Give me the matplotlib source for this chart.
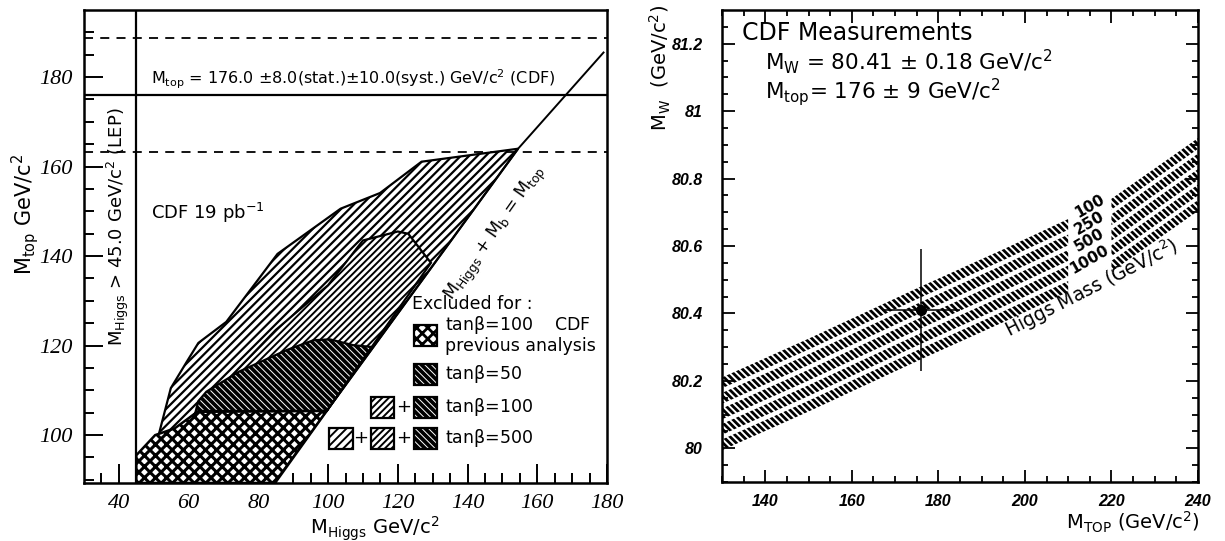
import numpy as np
import matplotlib
matplotlib.use("Agg")
import matplotlib.pyplot as plt
from matplotlib.patches import Polygon, Rectangle

plt.rcParams['font.family'] = ['DejaVu Sans']
plt.rcParams['mathtext.default'] = 'regular'
plt.rcParams['hatch.linewidth'] = 1.8

# ---------------- left panel data (M_Higgs, M_top) ----------------
mtop_cdf = 176.0
mtop_lo, mtop_hi = 163.2, 188.8
mhiggs_lep = 45.0

# M_Higgs + M_b = M_top line
kin_x = [84.5, 154.5, 179.0]
kin_y = [89.3, 164.0, 185.5]

# tan(beta)=500 excluded region
outer_x = [51, 54.9, 59.4, 62.8, 70.8, 85.5, 103.6, 114.9, 126.8, 154.5, 99.6, 62.8, 56, 51]
outer_y = [98.8, 110.5, 116.3, 120.6, 125.3, 140.5, 150.6, 154.1, 161.1, 164.0, 105.4, 105.4, 101.2, 98.8]

# tan(beta)=100 excluded region
inner_x = [56, 62, 72, 85, 100, 110, 120, 123, 129.5, 99.6, 62.8]
inner_y = [100.8, 104.5, 113, 123.5, 133.5, 143.5, 145.5, 145, 138.5, 105.4, 105.4]

# tan(beta)=50 excluded region
dark_x = [61.1, 62.8, 65.1, 74.5, 88.1, 95.8, 100.5, 107.2, 112.5, 99.6, 62.8, 61.1]
dark_y = [102.5, 107.6, 109.7, 114.2, 119.0, 121.2, 121.4, 120.1, 119.7, 105.4, 105.4, 102.5]

# CDF previous analysis (tan(beta)=100)
cross_x = [45, 45, 50.4, 56, 62.5, 99.6, 84.8]
cross_y = [89.3, 95.5, 100.0, 101.5, 105.2, 105.4, 89.3]

# ---------------- right panel data (M_top, M_W) ----------------
band_x1 = [130, 150, 176, 195, 210]
band_x2 = [220, 240]
higgs_masses = ['100', '250', '500', '1000']
row_1 = [80.194, 80.309, 80.464, 80.574, 80.664, 80.724, 80.904]
row_2 = [80.148, 80.263, 80.418, 80.528, 80.618, 80.678, 80.858]
row_3 = [80.102, 80.217, 80.372, 80.482, 80.572, 80.632, 80.812]
row_4 = [80.056, 80.171, 80.326, 80.436, 80.526, 80.586, 80.766]
row_5 = [80.010, 80.125, 80.280, 80.390, 80.480, 80.540, 80.720]
bands = [row_1, row_2, row_3, row_4, row_5]
band_half = 0.016

meas_mtop, meas_mtop_err = 176.0, 9.0
meas_mw, meas_mw_err = 80.41, 0.18

SPARSE, DENSE, DARK, CROSS = '////', '/////', '\\\\\\\\\\', 'xxx'


def set_hlw(artist, lw):
    if hasattr(artist, 'set_hatch_linewidth'):
        artist.set_hatch_linewidth(lw)


fig = plt.figure(figsize=(12.25, 5.41), dpi=100)
ax1 = fig.add_axes([84/1225, 1-483/541, (607-84)/1225, (483-10)/541])
ax2 = fig.add_axes([722/1225, 1-482/541, (1198-722)/1225, (482-10)/541])

# ======================= left panel =======================
ax1.set_xlim(30, 180)
ax1.set_ylim(89.3, 195)

p = Polygon(list(zip(outer_x, outer_y)), closed=True, facecolor='white',
            edgecolor='black', hatch=SPARSE, lw=1.6, zorder=2)
ax1.add_patch(p)
set_hlw(p, 1.6)
p = Polygon(list(zip(inner_x, inner_y)), closed=True, facecolor='white',
            edgecolor='black', hatch=DENSE, lw=1.6, zorder=3)
ax1.add_patch(p)
set_hlw(p, 1.4)
p = Polygon(list(zip(dark_x, dark_y)), closed=True, facecolor='black',
            edgecolor='white', hatch=DARK, lw=0, zorder=4)
ax1.add_patch(p)
set_hlw(p, 0.7)
ax1.add_patch(Polygon(list(zip(dark_x, dark_y)), closed=True, fill=False,
                      edgecolor='black', lw=1.6, zorder=4.5))
p = Polygon(list(zip(cross_x, cross_y)), closed=True, facecolor='white',
            edgecolor='black', hatch=CROSS, lw=1.8, zorder=5)
ax1.add_patch(p)
set_hlw(p, 2.2)

ax1.plot(kin_x, kin_y, color='black', lw=1.4, zorder=6)
ax1.axhline(mtop_cdf, color='black', lw=1.6, zorder=6)
ax1.axhline(mtop_lo, color='black', lw=1.3, ls=(0, (5, 4)), zorder=6)
ax1.axhline(mtop_hi, color='black', lw=1.3, ls=(0, (5, 4)), zorder=6)
ax1.axvline(mhiggs_lep, color='black', lw=1.6, zorder=6)

ax1.text(49.2, 179.4, 'M$_{top}$ = 176.0 ±8.0(stat.)±10.0(syst.) GeV/c$^{2}$ (CDF)',
         fontsize=11.5, ha='left', va='center')
ax1.text(49.2, 149.6, 'CDF 19 pb$^{-1}$', fontsize=13, ha='left', va='center')
ax1.text(39.8, 146.5, 'M$_{Higgs}$ > 45.0 GeV/c$^{2}$ (LEP)', fontsize=13,
         rotation=90, ha='center', va='center')
ax1.text(148.0, 145.0, 'M$_{Higgs}$ + M$_{b}$ = M$_{top}$', fontsize=12.5,
         rotation=55, ha='center', va='center', rotation_mode='anchor')

# legend
ax1.text(124.0, 129.2, 'Excluded for :', fontsize=12.5, ha='left', va='center')
bw, bh = 6.7, 4.7
box_x = [124.6, 112.2, 100.4]
rows = [
    (119.9, [(CROSS, 'white', 'black')], ['tan$\\beta$=100    CDF', 'previous analysis']),
    (111.3, [(DARK, 'black', 'white')], ['tan$\\beta$=50']),
    (103.9, [(DENSE, 'white', 'black'), (DARK, 'black', 'white')], ['tan$\\beta$=100']),
    (96.9, [(SPARSE, 'white', 'black'), (DENSE, 'white', 'black'), (DARK, 'black', 'white')],
     ['tan$\\beta$=500']),
]
for ybot, styles, labels in rows:
    n = len(styles)
    for k, (h, fc, hc) in enumerate(styles):
        bx = box_x[n-1-k]
        r = Rectangle((bx, ybot), bw, bh, facecolor=fc, edgecolor=hc, hatch=h,
                      lw=0, zorder=7)
        ax1.add_patch(r)
        if h == CROSS:
            set_hlw(r, 2.0)
        else:
            set_hlw(r, 1.4 if fc == 'white' else 0.7)
        ax1.add_patch(Rectangle((bx, ybot), bw, bh, fill=False, edgecolor='black',
                                lw=1.6, zorder=7.5))
        if k > 0:
            gap = box_x[0] - box_x[1] - bw
            ax1.text(bx - gap / 2, ybot + bh / 2, '+', fontsize=13,
                     ha='center', va='center')
    if len(labels) == 2:
        ax1.text(133.6, ybot + bh, labels[0], fontsize=12.5, ha='left', va='center')
        ax1.text(133.6, ybot, labels[1], fontsize=12.5, ha='left', va='center')
    else:
        ax1.text(133.6, ybot + bh / 2, labels[0], fontsize=12.5, ha='left', va='center')

ax1.set_xticks(np.arange(40, 181, 20))
ax1.set_xticks(np.arange(35, 181, 5), minor=True)
ax1.set_yticks(np.arange(100, 181, 20))
ax1.set_yticks(np.arange(90, 195, 5), minor=True)
ax1.tick_params(which='both', direction='in', top=False, right=False, width=1.4)
ax1.tick_params(which='major', length=14)
ax1.tick_params(which='minor', length=7)
ax1.tick_params(axis='y', pad=8)
ax1.tick_params(axis='x', pad=8)
for lab in ax1.get_xticklabels() + ax1.get_yticklabels():
    lab.set_fontfamily('Liberation Serif')
    lab.set_fontstyle('italic')
    lab.set_fontsize(16)
for s in ax1.spines.values():
    s.set_linewidth(1.8)
fig.text(25/1225, 1-214/541, 'M$_{top}$ GeV/c$^{2}$', rotation=90, fontsize=15,
         ha='center', va='center')
fig.text(375/1225, 1-529/541, 'M$_{Higgs}$ GeV/c$^{2}$', fontsize=14,
         ha='center', va='center')

# ======================= right panel =======================
ax2.set_xlim(130, 240)
ax2.set_ylim(79.9, 81.3)
n1 = len(band_x1)
for vals in bands:
    for xs, ys in ((band_x1, vals[:n1]), (band_x2, vals[n1:])):
        ys = np.array(ys)
        pc = ax2.fill_between(xs, ys - band_half, ys + band_half, facecolor='none',
                              edgecolor='black', hatch='\\\\\\\\\\', lw=0)
        set_hlw(pc, 2.0)

ax2.errorbar(meas_mtop, meas_mw, xerr=meas_mtop_err, yerr=meas_mw_err, fmt='o',
             color='black', ms=7, elinewidth=1.1, capsize=0, zorder=5)

mass_label_y = [80.718, 80.668, 80.618, 80.56]
for lab, yl in zip(higgs_masses, mass_label_y):
    ax2.text(215.0, yl, lab, fontsize=11, rotation=30, ha='center', va='center',
             fontweight='bold')
ax2.text(215.5, 80.475, 'Higgs Mass (GeV/c$^{2}$)', fontsize=13.5, rotation=27,
         ha='center', va='center')

ax2.text(134.6, 81.232, 'CDF Measurements', fontsize=17, ha='left', va='center')
ax2.text(139.9, 81.146, 'M$_{W}$ = 80.41 ± 0.18 GeV/c$^{2}$', fontsize=15.5,
         ha='left', va='center')
ax2.text(139.9, 81.058, 'M$_{top}$= 176 ± 9 GeV/c$^{2}$', fontsize=15.5,
         ha='left', va='center')

ax2.set_xticks(np.arange(140, 241, 20))
ax2.set_xticks(np.arange(130, 241, 5), minor=True)
ax2.set_yticks([80.0, 80.2, 80.4, 80.6, 80.8, 81.0, 81.2])
ax2.set_yticklabels(['80', '80.2', '80.4', '80.6', '80.8', '81', '81.2'])
ax2.set_yticks(np.arange(79.9, 81.3, 0.05), minor=True)
ax2.tick_params(which='both', direction='in', top=True, right=True, width=1.3)
ax2.tick_params(which='major', length=9)
ax2.tick_params(which='minor', length=4)
ax2.tick_params(axis='y', pad=14)
ax2.tick_params(axis='x', pad=9)
for lab in ax2.get_xticklabels() + ax2.get_yticklabels():
    lab.set_fontfamily('Liberation Sans')
    lab.set_fontstyle('italic')
    lab.set_fontweight('bold')
    lab.set_fontsize(11.5)
for s in ax2.spines.values():
    s.set_linewidth(1.8)
fig.text(660/1225, 1-68/541, 'M$_{W}$  (GeV/c$^{2}$)', rotation=90, fontsize=14,
         ha='center', va='center')
fig.text(1200/1225, 1-522/541, 'M$_{TOP}$ (GeV/c$^{2}$)', fontsize=14,
         ha='right', va='center')

fig.savefig('out.png', dpi=100)
